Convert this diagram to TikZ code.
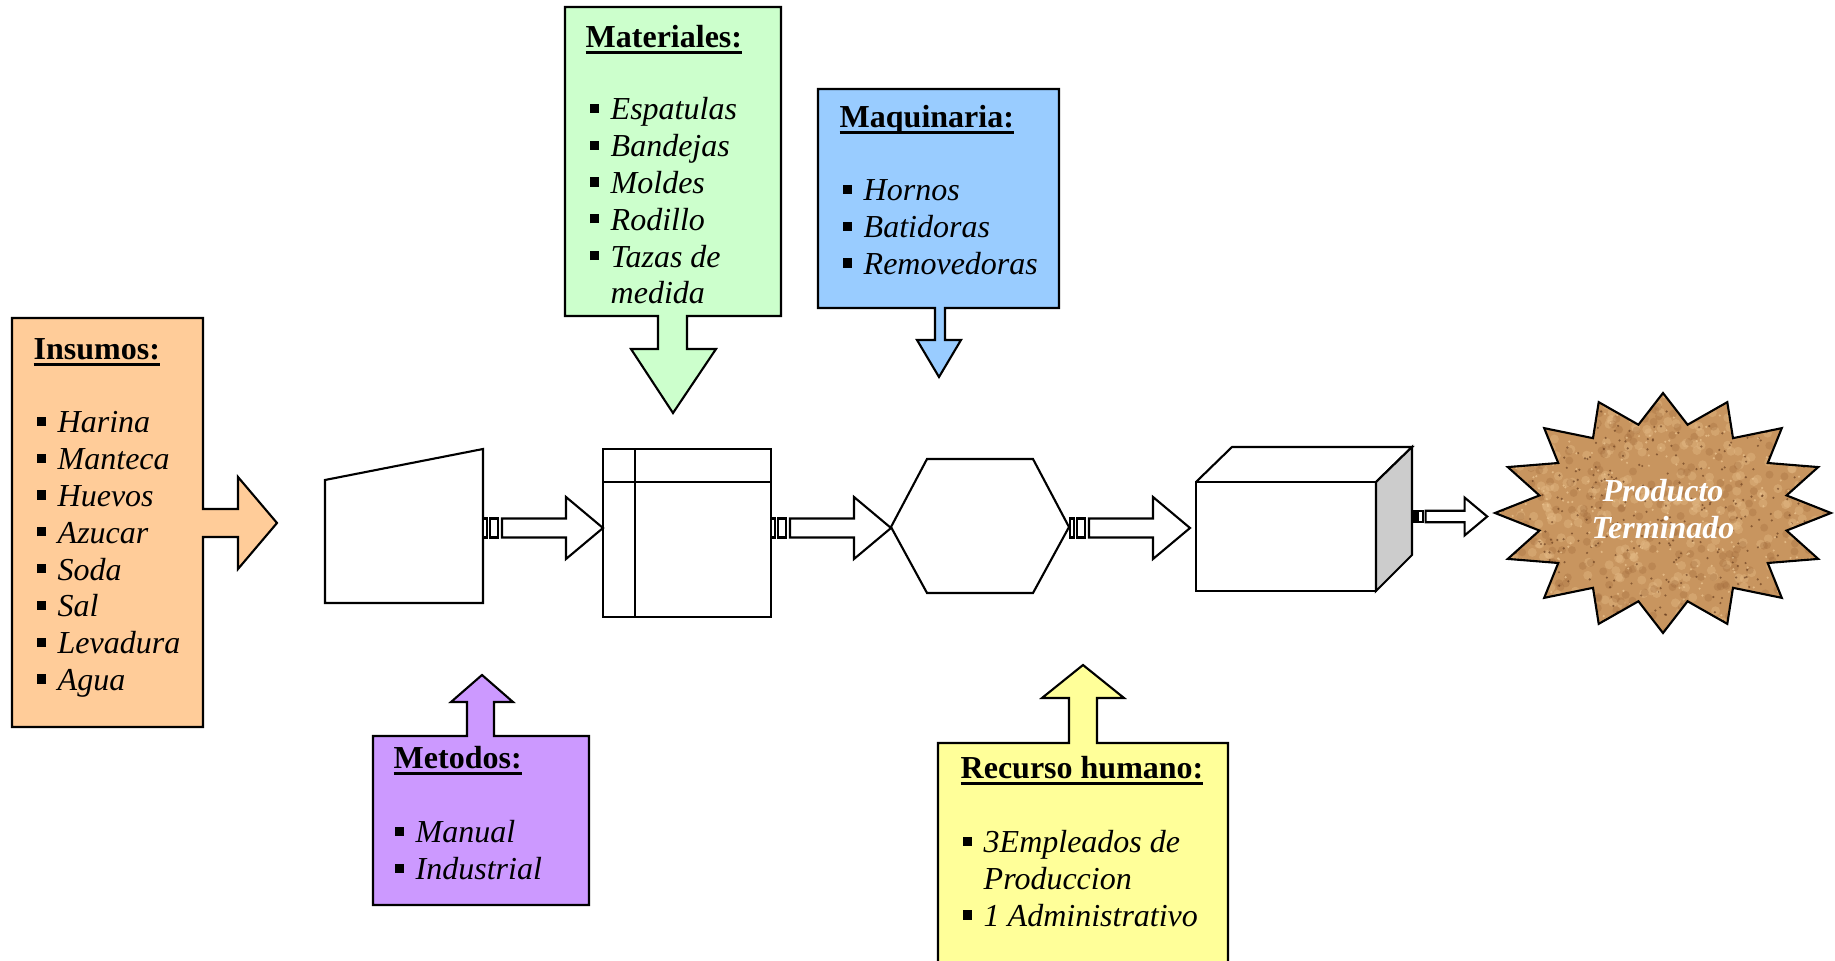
\documentclass[tikz,border=0pt]{standalone}
\usepackage{fontspec}
\setmainfont{Liberation Serif}

\definecolor{Insumo}{HTML}{FFCC99}
\definecolor{Material}{HTML}{CCFFCC}
\definecolor{Maquina}{HTML}{99CCFF}
\definecolor{Metodo}{HTML}{CC99FF}
\definecolor{Recurso}{HTML}{FFFF99}
\definecolor{Lado}{HTML}{CCCCCC}
\definecolor{Cork}{HTML}{C8955F}
\definecolor{CorkMid}{HTML}{A0693A}
\definecolor{CorkDark}{HTML}{5E3418}
\definecolor{CorkLight}{HTML}{E8C08C}

\newcommand{\txtsize}{\fontsize{9.1pt}{10.5pt}\selectfont}
\newcommand{\bul}{\llap{\raisebox{2pt}{\rule{2.6pt}{2.6pt}}\hspace{3.4pt}}}
\newcommand{\subrayado}[1]{\setbox0\hbox{#1}\rlap{\rule[-1.7pt]{\wd0}{0.8pt}}\box0}
\newcommand{\estrella}{(1663,393) \foreach \k [evaluate=\k as \r using {isodd(\k) ? 0.75 : 1}] in {1,...,31} { -- ({1663+168*\r*cos(90+11.25*\k)},{513-120*\r*sin(90+11.25*\k)}) } -- cycle}

\tikzset{
  linea/.style={draw=black, line width=0.6pt, line join=miter},
  titulo/.style={anchor=base west, inner sep=0pt, font=\bfseries\txtsize},
  item/.style={anchor=base west, inner sep=0pt, font=\itshape\txtsize},
  striped/.pic={
    \draw[linea, fill=white] (0,-9.5) rectangle (4,9.5);
    \draw[linea, fill=white] (7,-9.5) rectangle (15,9.5);
    \draw[linea, fill=white] (19,-9.5) -- (83,-9.5) -- (83,-31) -- (120,0) -- (83,31) -- (83,9.5) -- (19,9.5) -- cycle;
  }
}

\begin{document}
\begin{tikzpicture}[x=0.01cm, y=-0.01cm]

 \clip (0,0) rectangle (1835,961);

 %%%%%%%%%% Points pour les connecteurs %%%%%%%%%%
 \coordinate (c1) at (483,528);
 \coordinate (c2) at (771,528);
 \coordinate (c3) at (1070,528);
 \coordinate (c4) at (1414,516.5);

 %%%%%%%%%% Insumos %%%%%%%%%%
 \draw [linea, fill=Insumo] (12,318) -- (203,318) -- (203,509) -- (238,509) -- (238,477) -- (277,523) -- (238,569) -- (238,537) -- (203,537) -- (203,727) -- (12,727) -- cycle ;
 \node[titulo] (insumos) at (33,360) {\subrayado{Insumos:}};
 \foreach \t [count=\i from 0] in {Harina,Manteca,Huevos,Azucar,Soda,Sal,Levadura,Agua}
   \node[item] (insumo\i) at (57,433+36.8*\i) {\bul\t};

 %%%%%%%%%% Materiales %%%%%%%%%%
 \draw [linea, fill=Material] (565,7) -- (781,7) -- (781,316) -- (687,316) -- (687,349) -- (716,349) -- (673,413) -- (631,349) -- (658,349) -- (658,316) -- (565,316) -- cycle ;
 \node[titulo] (materiales) at (585,48) {\subrayado{Materiales:}};
 \foreach \t [count=\i from 0] in {\bul Espatulas,\bul Bandejas,\bul Moldes,\bul Rodillo,\bul Tazas de,medida}
   \node[item] (material\i) at (610,120+36.8*\i) {\t};

 %%%%%%%%%% Maquinaria %%%%%%%%%%
 \draw [linea, fill=Maquina] (818,89) -- (1059,89) -- (1059,308) -- (945,308) -- (945,340) -- (961,340) -- (939,377) -- (917,340) -- (935,340) -- (935,308) -- (818,308) -- cycle ;
 \node[titulo] (maquinaria) at (839,128) {\subrayado{Maquinaria:}};
 \foreach \t [count=\i from 0] in {Hornos,Batidoras,Removedoras}
   \node[item] (maquina\i) at (863,201+36.8*\i) {\bul\t};

 %%%%%%%%%% Metodos %%%%%%%%%%
 \draw [linea, fill=Metodo] (373,736) -- (467,736) -- (467,702) -- (451,702) -- (482,675) -- (513,702) -- (494,702) -- (494,736) -- (589,736) -- (589,905) -- (373,905) -- cycle ;
 \node[titulo] (metodos) at (393,769) {\subrayado{Metodos:}};
 \foreach \t [count=\i from 0] in {Manual,Industrial}
   \node[item] (metodo\i) at (415,843+36.8*\i) {\bul\t};

 %%%%%%%%%% Recurso humano %%%%%%%%%%
 \draw [linea, fill=Recurso] (938,743) -- (1069,743) -- (1069,698) -- (1042,698) -- (1083,665) -- (1124,698) -- (1097,698) -- (1097,743) -- (1228,743) -- (1228,975) -- (938,975) -- cycle ;
 \node[titulo] (recurso) at (960,779) {\subrayado{Recurso humano:}};
 \foreach \t [count=\i from 0] in {\bul 3Empleados de,Produccion,\bul 1 Administrativo}
   \node[item] (recurso\i) at (983,853+36.8*\i) {\t};

 %%%%%%%%%%% Procesos %%%%%%%%%%%
 % entrada manual
 \draw [linea] (325,480) -- (483,449) -- (483,603) -- (325,603) -- cycle ;
 % almacenamiento interno
 \draw [linea] (603,449) rectangle (771,617) ;
 \draw [linea] (603,482) -- (771,482) ;
 \draw [linea] (635,449) -- (635,617) ;
 % preparacion
 \draw [linea] (891,527) -- (927,459) -- (1033,459) -- (1069,527) -- (1033,593) -- (927,593) -- cycle ;
 % cubo
 \draw [linea] (1196,482) rectangle (1376,591) ;
 \draw [linea] (1196,482) -- (1232,447) -- (1412,447) -- (1376,482) ;
 \draw [linea, fill=Lado] (1376,482) -- (1412,447) -- (1412,555) -- (1376,591) -- cycle ;

 %%%%%%%%%%% Conectores %%%%%%%%%%%
 \pic at (c1) {striped};
 \pic at (c2) {striped};
 \pic at (c3) {striped};
 \pic[scale=0.61] at (c4) {striped};

 %%%%%%%%%%% Producto terminado %%%%%%%%%%%
 \begin{scope}
   \clip \estrella ;
   \fill [Cork] (1490,390) rectangle (1835,640) ;
   \pgfmathsetseed{7}
   \foreach \i in {1,...,350}
     \fill [CorkLight, opacity=0.35] ({1494+337*rnd},{393+240*rnd}) circle (4.5) ;
   \foreach \i in {1,...,300}
     \fill [CorkMid, opacity=0.3] ({1494+337*rnd},{393+240*rnd}) circle (4) ;
   \foreach \i in {1,...,450}
     \fill [CorkDark, opacity=0.6] ({1494+337*rnd},{393+240*rnd}) circle (1.2) ;
   \foreach \i in {1,...,300}
     \fill [CorkLight, opacity=0.8] ({1494+337*rnd},{393+240*rnd}) circle (1.2) ;
 \end{scope}
 \draw [linea] \estrella ;
 \node[align=center, inner sep=0pt, text=white, font=\bfseries\itshape\txtsize] (producto) at (1663,509) {Producto\\Terminado};

\end{tikzpicture}
\end{document}
